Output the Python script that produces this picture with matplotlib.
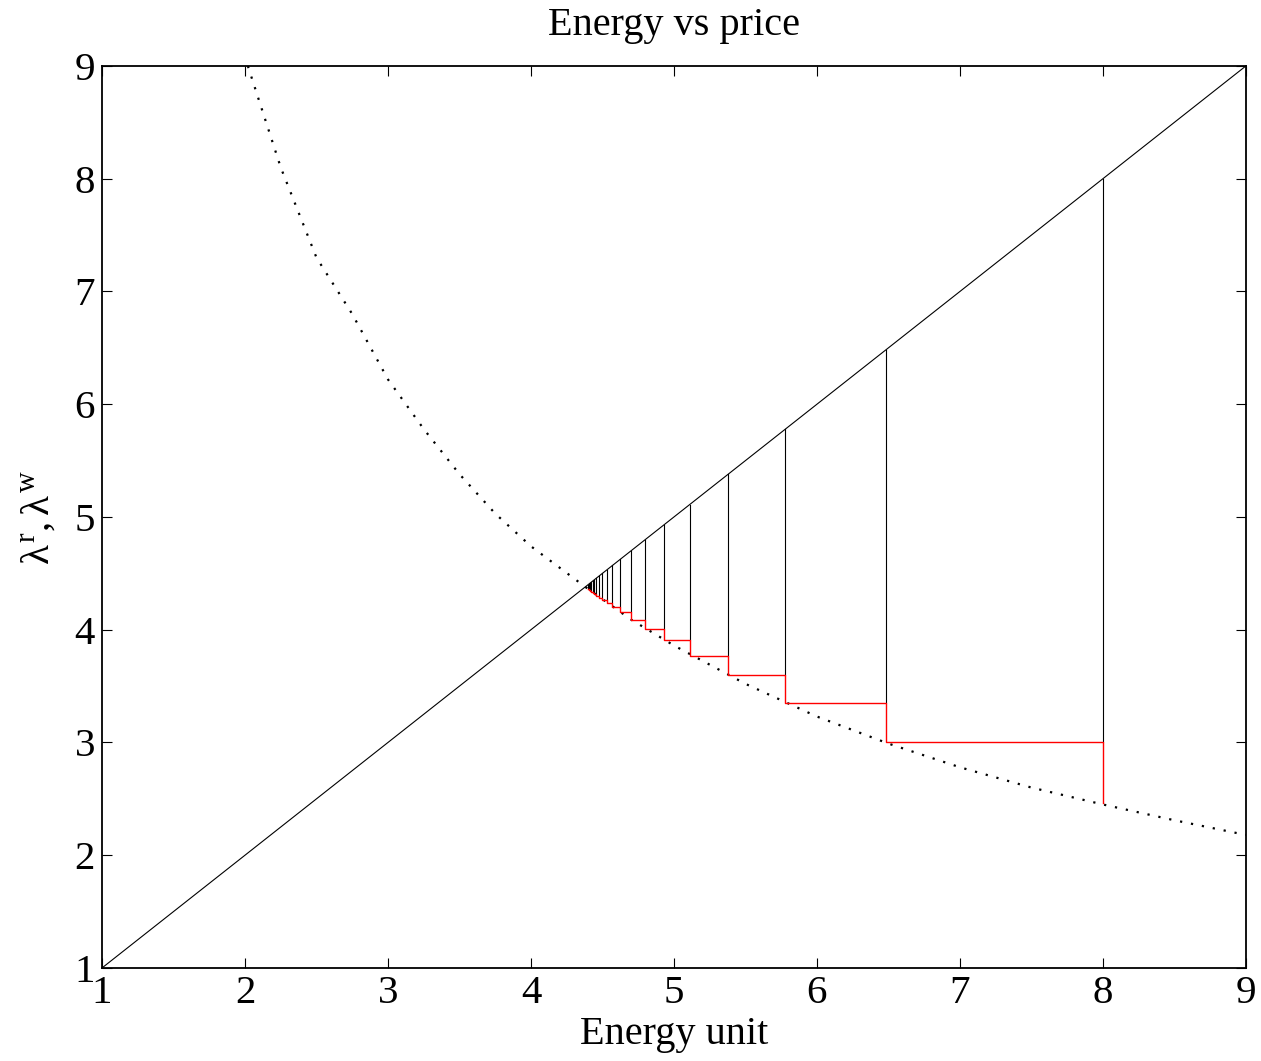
import matplotlib
matplotlib.use("Agg")
import matplotlib.pyplot as plt

# ---- data ----
diag_x = [1, 9]
diag_y = [1, 9]

curve_x = [2.02, 2.25, 2.5, 2.75, 3.0, 3.25, 3.5, 3.75, 4.0, 4.38, 4.7, 5.0, 5.5,
           6.0, 6.5, 7.0, 7.5, 8.0, 8.5, 9.0]
curve_y = [9.0, 8.1, 7.3, 6.8, 6.22, 5.78, 5.38, 5.03, 4.74, 4.38, 4.09, 3.86, 3.52,
           3.23, 2.99, 2.78, 2.6, 2.45, 2.31, 2.18]

# cobweb iterates (x positions of the vertical lines) and red step levels
step_x = [8.0, 6.48, 5.78, 5.38, 5.11, 4.93, 4.80, 4.70, 4.625, 4.57, 4.53, 4.50,
          4.475, 4.457, 4.443, 4.432, 4.423, 4.416, 4.41, 4.405, 4.40]
step_level = [3.0, 3.35, 3.60, 3.77, 3.91, 4.01, 4.09, 4.16, 4.20, 4.24, 4.265,
              4.285, 4.30, 4.315, 4.325, 4.335, 4.342, 4.348, 4.353, 4.357, 4.36]
start_y = 2.46  # curve value under the first iterate

plt.rcParams['font.family'] = ['Liberation Serif', 'DejaVu Serif']
plt.rcParams['mathtext.fontset'] = 'custom'
plt.rcParams['mathtext.rm'] = 'Liberation Serif'
plt.rcParams['mathtext.it'] = 'Liberation Serif'

fig = plt.figure(figsize=(12.61, 10.61), dpi=100)
ax = fig.add_axes([0.0809, 0.0877, 0.988 - 0.0809, 0.9378 - 0.0877])

ax.plot(diag_x, diag_y, color='black', lw=0.8)
ax.plot(curve_x, curve_y, color='black', lw=1.6, linestyle=(0, (1, 4)))

# black verticals from step level up to the diagonal
for xv, lv in zip(step_x, step_level):
    ax.plot([xv, xv], [lv, xv], color='black', lw=0.8)

# red staircase
rx = [step_x[0]]
ry = [start_y]
for i, (xv, lv) in enumerate(zip(step_x, step_level)):
    rx.append(xv)
    ry.append(lv)
    if i + 1 < len(step_x):
        rx.append(step_x[i + 1])
        ry.append(lv)
ax.plot(rx, ry, color='red', lw=1.0)

ax.set_xlim(1, 9)
ax.set_ylim(1, 9)
ax.set_xticks(range(1, 10))
ax.set_yticks(range(1, 10))
ax.tick_params(direction='in', length=7.5, width=0.8, labelsize=29.5,
               top=True, right=True, pad=5)
for s in ax.spines.values():
    s.set_linewidth(1.3)

ax.set_title('Energy vs price', fontsize=29, pad=22)
ax.set_xlabel('Energy unit', fontsize=29, labelpad=3)
ax.set_ylabel(r'$\lambda^{\mathrm{r}}, \lambda^{\mathrm{w}}$', fontsize=29.5, labelpad=12)

fig.savefig('out.png', dpi=100, facecolor='white')
